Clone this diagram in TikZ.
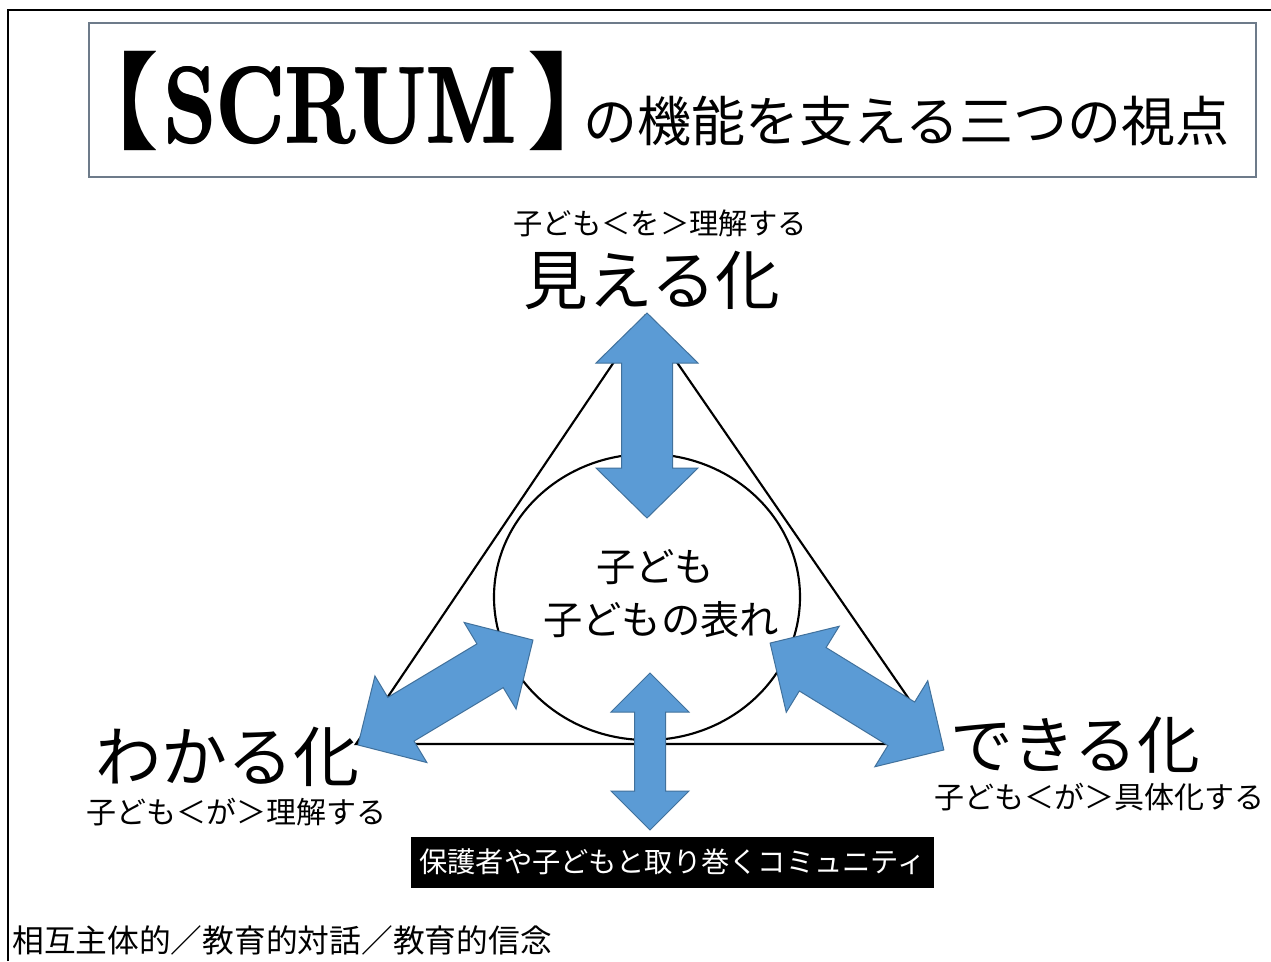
\documentclass[tikz,border=0pt]{standalone}
\usepackage{fontspec}
\usepackage{graphicx}
\usetikzlibrary{shapes.geometric}
\newfontfamily\jp{Noto Sans CJK JP}
\newfontfamily\jpp[RawFeature=+palt]{Noto Sans CJK JP}
\definecolor{arrfill}{HTML}{5B9BD5}
\definecolor{arrdraw}{HTML}{41719C}
\definecolor{boxframe}{HTML}{6D7B8A}
\newcommand\jpsz[1]{\fontsize{#1}{#1}\selectfont\jp}
\newcommand\jppsz[1]{\fontsize{#1}{#1}\selectfont\jpp}
\newcommand\scrumword{\resizebox{264pt}{57pt}{\bfseries SCRUM}}
\newcommand\dblarrow[6]{% center, angle, L, h, W, s
  \begin{scope}[shift={#1}, rotate=#2]
    \draw[blockarrow] (-#3/2,0) -- (-#3/2+#4,#5/2) -- (-#3/2+#4,#6/2) -- (#3/2-#4,#6/2) -- (#3/2-#4,#5/2) -- (#3/2,0) -- (#3/2-#4,-#5/2) -- (#3/2-#4,-#6/2) -- (-#3/2+#4,-#6/2) -- (-#3/2+#4,-#5/2) -- cycle;
  \end{scope}}
\begin{document}
\begin{tikzpicture}[x=0.75pt, y=-0.75pt,
  blockarrow/.style={fill=arrfill, draw=arrdraw, line width=0.75pt, line join=miter},
  frameline/.style={line width=1.5pt},
  shapeline/.style={line width=1.6pt},
  every node/.style={inner sep=0pt}]
\useasboundingbox (0,0) rectangle (1271,961);
\fill[white] (0,0) rectangle (1271,961);
% outer frame
\coordinate (FL) at (8,961); \coordinate (FTL) at (8,10); \coordinate (FR) at (1271,10);
\draw[frameline] (FL) -- (FTL) -- (FR);
% title
\node (titlebox) [draw=boxframe, line width=1pt, minimum width=875.25pt, minimum height=115.5pt] at (672.5,100) {};
\node (lb) [font=\jppsz{80pt}, anchor=base east] at (158,141.5) {【};
\node (scrum) [anchor=base west] at (163,142) {\scrumword};
\node (scrumb) [anchor=base west] at (164.5,142) {\scrumword};
\node (scrumc) [anchor=base west] at (163.5,143) {\scrumword};
\node (rb) [font=\jppsz{80pt}, anchor=base west] at (529,141.5) {】};
\node (title) [anchor=base west, font=\jpsz{40.5pt}] at (583,141.5) {の機能を支える三つの視点};
% triangle and circle
\coordinate (A) at (645,316); \coordinate (B) at (356,744); \coordinate (C) at (940,744);
\draw[shapeline] (A) -- (B) -- (C) -- cycle;
\node (child) [draw, ellipse, shapeline, minimum width=229.5pt, minimum height=214.5pt] at (647,597) {};
% labels
\node (topsub) [font=\jpsz{22pt}] at (660,223) {子ども＜を＞理解する};
\node (top) [font=\jpsz{48.5pt}] at (652,280) {見える化};
\node (c1) [font=\jpsz{29.5pt}] at (655,567) {子ども};
\node (c2) [font=\jpsz{29.5pt}] at (661,620) {子どもの表れ};
\node (left) [font=\jpsz{49.5pt}] at (227,757) {わかる化};
\node (leftsub) [font=\jpsz{22.5pt}] at (236,812) {子ども＜が＞理解する};
\node (right) [font=\jpsz{47pt}] at (1075,745) {できる化};
\node (rightsub) [font=\jpsz{22.5pt}] at (1099,797) {子ども＜が＞具体化する};
\node (comm) [fill=black, text=white, font=\jpsz{21.2pt}, minimum width=392.25pt, minimum height=38.25pt] at (672.5,862) {保護者や子どもと取り巻くコミュニティ};
\node (foot) [anchor=west, font=\jpsz{23.8pt}] at (12,940) {相互主体的／教育的対話／教育的信念};
% arrows
\coordinate (arrTop) at (647,415.5);
\coordinate (arrLeft) at (445.5,692.5);
\coordinate (arrRight) at (857,696.5);
\coordinate (arrBottom) at (650,751.5);
\dblarrow{(arrTop)}{90}{205}{50}{102}{51}
\dblarrow{(arrLeft)}{30.96}{204}{50}{101}{51}
\dblarrow{(arrRight)}{-31.6}{204}{50}{101}{51}
\dblarrow{(arrBottom)}{90}{157}{39}{78}{31}
\end{tikzpicture}
\end{document}
